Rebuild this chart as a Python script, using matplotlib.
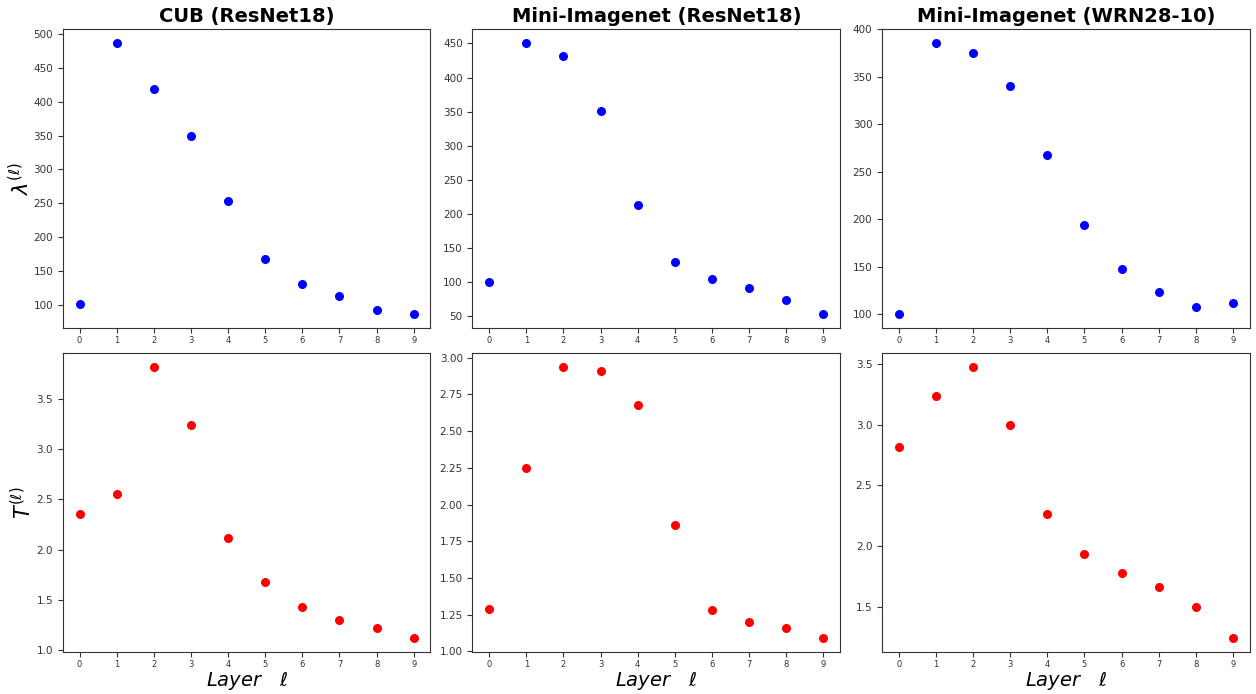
import matplotlib
matplotlib.use("Agg")
import matplotlib.pyplot as plt

layers = list(range(10))
titles = ["CUB (ResNet18)", "Mini-Imagenet (ResNet18)", "Mini-Imagenet (WRN28-10)"]

# lambda per layer
lam_cub = [101, 487, 419, 349, 253, 168, 130, 113, 92, 86]
lam_mini_r18 = [100, 451, 432, 351, 213, 129, 105, 92, 74, 53]
lam_mini_wrn = [100, 386, 375, 340, 268, 194, 148, 123, 108, 112]

# temperature per layer
t_cub = [2.35, 2.55, 3.82, 3.24, 2.12, 1.68, 1.43, 1.30, 1.22, 1.12]
t_mini_r18 = [1.29, 2.25, 2.94, 2.91, 2.68, 1.86, 1.28, 1.20, 1.16, 1.09]
t_mini_wrn = [2.82, 3.24, 3.48, 3.00, 2.26, 1.93, 1.78, 1.66, 1.50, 1.24]

lams = [lam_cub, lam_mini_r18, lam_mini_wrn]
temps = [t_cub, t_mini_r18, t_mini_wrn]

fig, axes = plt.subplots(2, 3, figsize=(12.56, 6.94), dpi=100)
fig.subplots_adjust(left=0.050, right=0.995, top=0.958, bottom=0.061,
                    wspace=0.114, hspace=0.084)

for j in range(3):
    ax = axes[0, j]
    ax.scatter(layers, lams[j], color="blue", s=30)
    ax.set_title(titles[j], fontsize=14, fontweight="bold", pad=5)
    ax2 = axes[1, j]
    ax2.scatter(layers, temps[j], color="red", s=30)
    ax2.set_xlabel(r"$Layer\quad\ell$", fontsize=14, labelpad=0)
    for a in (ax, ax2):
        a.set_xticks(layers)
        a.tick_params(axis="x", labelsize=6, colors="#333333", pad=2.5)
        a.tick_params(axis="y", labelsize=7.5, colors="#333333")
        for sp in a.spines.values():
            sp.set_color("#333333")

axes[0, 0].set_ylabel(r"$\lambda^{(\ell)}$", fontsize=15)
axes[1, 0].set_ylabel(r"$T^{(\ell)}$", fontsize=15)
axes[0, 0].yaxis.set_label_coords(-0.08, 0.5)
axes[1, 0].yaxis.set_label_coords(-0.075, 0.5)

fig.savefig("out.png", dpi=100)
